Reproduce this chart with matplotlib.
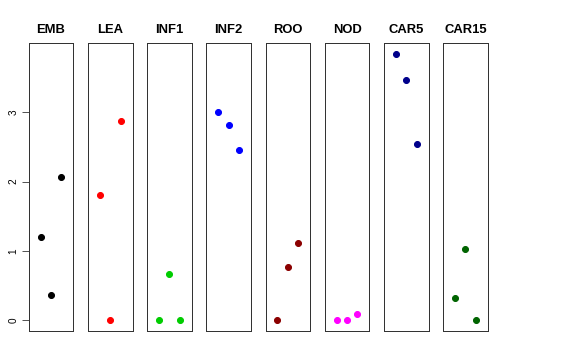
import matplotlib.pyplot as plt

plt.rcParams['font.family'] = ['Liberation Sans', 'DejaVu Sans']

# Данные
tissues = ['EMB', 'LEA', 'INF1', 'INF2', 'ROO', 'NOD', 'CAR5', 'CAR15']
colors = ['black', 'red', '#00CD00', 'blue', '#8B0000', 'magenta', '#00008B', '#006400']
x_pos = [1, 2, 3]
emb = [1.20, 0.36, 2.06]
lea = [1.80, 0.0, 2.88]
inf1 = [0.0, 0.67, 0.0]
inf2 = [3.00, 2.81, 2.45]
roo = [0.0, 0.77, 1.11]
nod = [0.0, 0.0, 0.09]
car5 = [3.84, 3.47, 2.54]
car15 = [0.32, 1.03, 0.0]
values = [emb, lea, inf1, inf2, roo, nod, car5, car15]

W, H = 576, 360
fig = plt.figure(figsize=(W / 72, H / 72), dpi=72)

ymax = 3.84
ypad = ymax * 0.04
left0, step, width = 28.7, 59.2, 44.6
top, bottom = 43.3, 331.0

for i, (name, vals, col) in enumerate(zip(tissues, values, colors)):
    left = left0 + step * i
    ax = fig.add_axes([left / W, 1 - bottom / H, width / W, (bottom - top) / H])
    ax.plot(x_pos, vals, 'o', color=col, markersize=6, linestyle='none')
    ax.set_xlim(-0.16, 4.16)
    ax.set_ylim(-ypad, ymax + ypad)
    ax.set_xticks([])
    ax.set_title(name, fontsize=13, fontweight='bold', pad=10)
    for sp in ax.spines.values():
        sp.set_linewidth(1.0)
        sp.set_color('#333333')
    if i == 0:
        ax.set_yticks([0, 1, 2, 3])
        ax.tick_params(axis='y', length=7, width=1.0, color='#555555',
                       labelsize=10, pad=3)
        for lab in ax.get_yticklabels():
            lab.set_rotation(90)
            lab.set_va('center')
    else:
        ax.set_yticks([])

fig.savefig('out.png', dpi=72)
